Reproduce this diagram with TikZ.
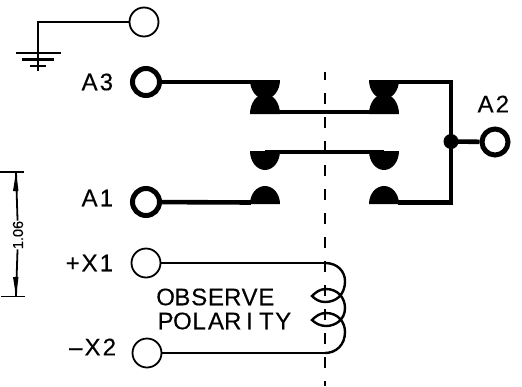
\documentclass[tikz,border=0pt]{standalone}
\usepackage{fontspec}
\setmainfont{Liberation Sans}
\newfontfamily\labfont[FakeBold=0.25]{Liberation Sans}
\newcommand{\cc}[1]{\makebox[16.8pt][c]{#1}}
\tikzset{
  x=1pt,y=-1pt,
  thinterm/.style={circle,draw,line width=1.8pt,minimum size=27pt,inner sep=0pt,fill=white},
  thickterm/.style={circle,draw,line width=5pt,minimum size=27pt,inner sep=0pt,fill=white},
  thinwire/.style={line width=2.7pt},
  heavywire/.style={line width=4.6pt},
  lab/.style={inner sep=0pt,font=\labfont\fontsize{24}{24}\selectfont},
  coil/.style={line width=2.4pt},
}
\begin{document}
\begin{tikzpicture}
\useasboundingbox (0,0) rectangle (522,386);
% terminals
\node[thinterm,minimum size=29pt] (G) at (144,22) {};
\node[thickterm] (A3) at (146,82) {};
\node[thickterm] (A1) at (146,202) {};
\node[thickterm,minimum size=26pt] (A2) at (495,142) {};
\node[thinterm,minimum size=29pt] (X1) at (146,263) {};
\node[thinterm,minimum size=29pt] (X2) at (147,353) {};
% named points
\coordinate (gc) at (38,22);
\coordinate (ge) at (38,71);
\coordinate (g1l) at (16,53); \coordinate (g1r) at (61,53);
\coordinate (g2l) at (22,59.5); \coordinate (g2r) at (54,59.5);
\coordinate (g3l) at (30,66); \coordinate (g3r) at (46,66);
\coordinate (tl) at (251,82);
\coordinate (tr) at (398,82);
\coordinate (bl) at (251,202.5);
\coordinate (br) at (398,202.5);
\coordinate (tc) at (451,82);
\coordinate (bc) at (451,202.5);
\coordinate (J) at (451,141.5);
\coordinate (b1l) at (265,112);
\coordinate (b1r) at (384,112);
\coordinate (b2l) at (265,152);
\coordinate (b2r) at (384,152);
\coordinate (X1e) at (325,263);
\coordinate (X2e) at (325,353);
\coordinate (cl1) at (325,72);
\coordinate (cl2) at (325,386);
\coordinate (dt) at (16,172);
\coordinate (db) at (16,296);
% ground
\draw[line width=2.4pt] (G) -- (gc) -- (ge);
\draw[line width=2.4pt] (g1l) -- (g1r) (g2l) -- (g2r) (g3l) -- (g3r);
% centre line
\draw[line width=2.4pt,dash pattern=on 11pt off 13pt,dash phase=3pt] (cl1) -- (cl2);
% wires
\draw[heavywire] (A3) -- (tl);
\draw[heavywire] (A1) -- (bl);
\draw[heavywire] (tr) -- (tc) -- (bc) -- (br);
\draw[heavywire] (b1l) -- (b1r);
\draw[heavywire] (b2l) -- (b2r);
\draw[heavywire] (J) -- (A2);
\fill (J) circle[radius=7.5];
% contacts
\foreach \cx in {250,369}{
  \fill (\cx,80) arc[start angle=180,end angle=0,x radius=15,y radius=19] -- cycle;
  \fill (\cx,114) arc[start angle=180,end angle=360,x radius=15,y radius=20] -- cycle;
  \fill (\cx,151) arc[start angle=180,end angle=0,x radius=15,y radius=19] -- cycle;
  \fill (\cx,204) arc[start angle=180,end angle=360,x radius=15,y radius=18] -- cycle;
}
% coil
\draw[thinwire] (X1) -- (X1e);
\draw[thinwire] (X2) -- (X2e);
\draw[coil] (X1e) .. controls (338,263) and (345,272) .. (345,281)
  .. controls (345,296) and (335,302) .. (325,302)
  .. controls (319,302) and (315,299) .. (312,296)
  .. controls (316,292) and (320,289) .. (326,289)
  .. controls (338,289) and (345,298) .. (345,308)
  .. controls (345,320) and (335,326) .. (326,326)
  .. controls (320,326) and (315,323) .. (312,320)
  .. controls (316,316) and (320,313) .. (326,313)
  .. controls (338,313) and (345,322) .. (345,332)
  .. controls (345,345) and (336,353) .. (X2e);
% labels
\node[lab,anchor=east] (lA3) at (115,82) {\cc{A}\cc{3}};
\node[lab,anchor=east] (lA1) at (115,198) {\cc{A}\cc{1}};
\node[lab,anchor=east] (lX1) at (115,263) {\cc{+}\cc{X}\cc{1}};
\node[lab,anchor=east] (lX2) at (118,347) {\cc{–}\cc{X}\cc{2}};
\node[lab] (lA2) at (494,104) {\cc{A}\cc{2}};
\node[lab,anchor=west] (lO) at (157,297) {\cc{O}\cc{B}\cc{S}\cc{E}\cc{R}\cc{V}\cc{E}};
\node[lab,anchor=west] (lP) at (157,321) {\cc{P}\cc{O}\cc{L}\cc{A}\cc{R}\cc{I}\cc{T}\cc{Y}};
% dimension
\node[rotate=90,inner sep=0pt,font=\labfont\fontsize{14.5}{14.5}\selectfont] (dim) at (18,235) {1.06};
\draw[line width=1.8pt] (0,172) -- (24,172);
\draw[line width=1.8pt] (1,296.5) -- (25,296.5);
\draw[line width=1.8pt] (dt) -- (dim);
\draw[line width=1.8pt] (db) -- (dim);
\fill (16,172) -- (18.5,191) -- (13,191) -- cycle;
\fill (16,296) -- (18.5,277) -- (13,277) -- cycle;
\end{tikzpicture}
\end{document}
